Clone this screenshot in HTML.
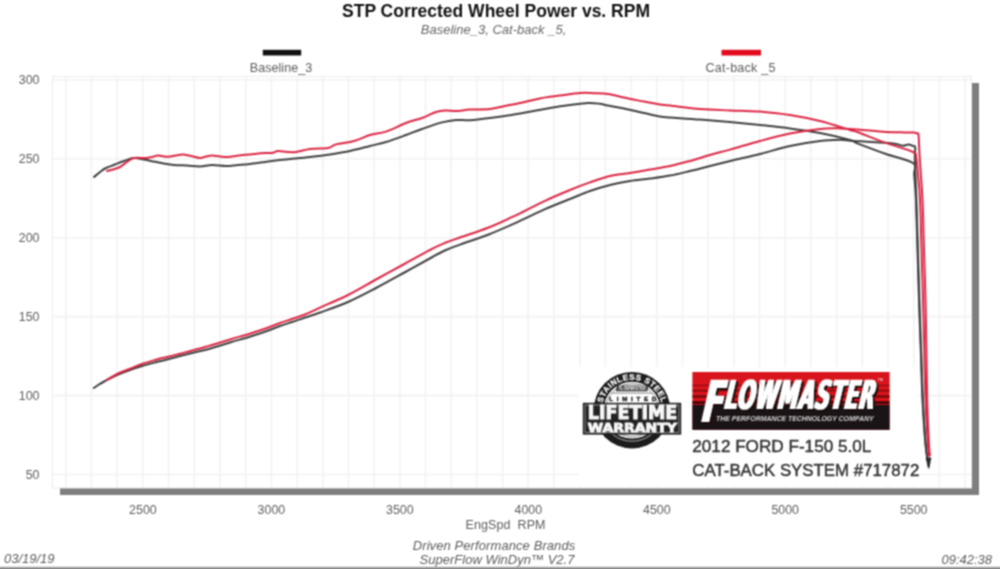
<!DOCTYPE html>
<html lang="en">
<head>
<meta charset="utf-8">
<title>STP Corrected Wheel Power vs. RPM</title>
<style>
html,body{margin:0;padding:0;background:#fff;}
body{width:1000px;height:569px;overflow:hidden;position:relative;font-family:"Liberation Sans",Arial,sans-serif;}
#wrap{position:absolute;left:0;top:0;width:1000px;height:569px;overflow:hidden;filter:url(#soft);}
svg{display:block;}
svg text{font-family:"Liberation Sans",Arial,sans-serif;}
svg text.dj{font-family:"DejaVu Sans","Liberation Sans",sans-serif;}
svg text.djc{font-family:"DejaVu Sans Condensed","DejaVu Sans","Liberation Sans",sans-serif;font-stretch:condensed;}
.tick text{font-size:12.4px;fill:#5c5c5c;}
.grid line{stroke:#f2f2f2;stroke-width:1.6;}
.curve path{fill:none;stroke-width:2;stroke-linejoin:round;stroke-linecap:round;}
</style>
</head>
<body>
<div id="wrap">
<svg id="chart" width="1000" height="569" viewBox="0 0 1000 569">
<defs><filter id="soft" x="0" y="0" width="1000" height="569" filterUnits="userSpaceOnUse" color-interpolation-filters="sRGB"><feConvolveMatrix order="3" kernelMatrix="1 2 1 2 4 2 1 2 1" divisor="16" edgeMode="duplicate" preserveAlpha="true"/></filter></defs>
<rect x="0" y="0" width="1000" height="569" fill="#ffffff"/>
<!-- titles -->
<text id="title" x="496" y="17.2" text-anchor="middle" font-size="17.5" font-weight="bold" fill="#111">STP Corrected Wheel Power vs. RPM</text>
<text id="subtitle" x="493.5" y="34" text-anchor="middle" font-size="13" textLength="145.5" font-style="italic" fill="#666">Baseline_3, Cat-back _5,</text>
<!-- legend -->
<rect x="262.8" y="49.8" width="38.4" height="5.7" fill="#111"/>
<text id="leg1" x="281" y="72" text-anchor="middle" font-size="12.6" textLength="62.5" fill="#5c5c5c">Baseline_3</text>
<rect x="721.5" y="49.8" width="39.5" height="5.7" fill="#e20a1c"/>
<text id="leg2" x="740.5" y="72" text-anchor="middle" font-size="12.6" textLength="70" fill="#5c5c5c">Cat-back _5</text>
<!-- plot frame -->
<rect x="60" y="83" width="919" height="412" fill="#7f7f7f"/>
<rect x="52.5" y="76.5" width="919.0" height="411.5" fill="#ffffff" stroke="#ececec" stroke-width="1"/>
<g class="grid"><line x1="65.8" y1="76.5" x2="65.8" y2="488.0"/><line x1="91.5" y1="76.5" x2="91.5" y2="488.0"/><line x1="117.2" y1="76.5" x2="117.2" y2="488.0"/><line x1="142.9" y1="76.5" x2="142.9" y2="488.0"/><line x1="168.6" y1="76.5" x2="168.6" y2="488.0"/><line x1="194.3" y1="76.5" x2="194.3" y2="488.0"/><line x1="220.0" y1="76.5" x2="220.0" y2="488.0"/><line x1="245.7" y1="76.5" x2="245.7" y2="488.0"/><line x1="271.4" y1="76.5" x2="271.4" y2="488.0"/><line x1="297.1" y1="76.5" x2="297.1" y2="488.0"/><line x1="322.8" y1="76.5" x2="322.8" y2="488.0"/><line x1="348.4" y1="76.5" x2="348.4" y2="488.0"/><line x1="374.1" y1="76.5" x2="374.1" y2="488.0"/><line x1="399.8" y1="76.5" x2="399.8" y2="488.0"/><line x1="425.5" y1="76.5" x2="425.5" y2="488.0"/><line x1="451.2" y1="76.5" x2="451.2" y2="488.0"/><line x1="476.9" y1="76.5" x2="476.9" y2="488.0"/><line x1="502.6" y1="76.5" x2="502.6" y2="488.0"/><line x1="528.3" y1="76.5" x2="528.3" y2="488.0"/><line x1="554.0" y1="76.5" x2="554.0" y2="488.0"/><line x1="579.7" y1="76.5" x2="579.7" y2="488.0"/><line x1="605.4" y1="76.5" x2="605.4" y2="488.0"/><line x1="631.1" y1="76.5" x2="631.1" y2="488.0"/><line x1="656.8" y1="76.5" x2="656.8" y2="488.0"/><line x1="682.5" y1="76.5" x2="682.5" y2="488.0"/><line x1="708.1" y1="76.5" x2="708.1" y2="488.0"/><line x1="733.8" y1="76.5" x2="733.8" y2="488.0"/><line x1="759.5" y1="76.5" x2="759.5" y2="488.0"/><line x1="785.2" y1="76.5" x2="785.2" y2="488.0"/><line x1="810.9" y1="76.5" x2="810.9" y2="488.0"/><line x1="836.6" y1="76.5" x2="836.6" y2="488.0"/><line x1="862.3" y1="76.5" x2="862.3" y2="488.0"/><line x1="888.0" y1="76.5" x2="888.0" y2="488.0"/><line x1="913.7" y1="76.5" x2="913.7" y2="488.0"/><line x1="939.4" y1="76.5" x2="939.4" y2="488.0"/><line x1="965.1" y1="76.5" x2="965.1" y2="488.0"/><line x1="52.5" y1="474.5" x2="971.5" y2="474.5"/><line x1="52.5" y1="395.6" x2="971.5" y2="395.6"/><line x1="52.5" y1="316.6" x2="971.5" y2="316.6"/><line x1="52.5" y1="237.7" x2="971.5" y2="237.7"/><line x1="52.5" y1="158.7" x2="971.5" y2="158.7"/><line x1="52.5" y1="79.8" x2="971.5" y2="79.8"/></g>
<rect x="579" y="367" width="338" height="119" fill="#fff"/>
<g class="tick"><text x="39.5" y="478.8" text-anchor="end">50</text><text x="39.5" y="399.9" text-anchor="end">100</text><text x="39.5" y="320.9" text-anchor="end">150</text><text x="39.5" y="242.0" text-anchor="end">200</text><text x="39.5" y="163.0" text-anchor="end">250</text><text x="39.5" y="84.0" text-anchor="end">300</text><text x="142.9" y="514" text-anchor="middle">2500</text><text x="271.4" y="514" text-anchor="middle">3000</text><text x="399.8" y="514" text-anchor="middle">3500</text><text x="528.3" y="514" text-anchor="middle">4000</text><text x="656.8" y="514" text-anchor="middle">4500</text><text x="785.2" y="514" text-anchor="middle">5000</text><text x="913.7" y="514" text-anchor="middle">5500</text></g>
<!-- curves -->
<g class="curve">
<path d="M94.0,177.0C95.0,176.2 98.0,173.5 100.0,172.0C102.0,170.5 103.5,169.2 106.0,168.0C108.5,166.8 112.0,165.7 115.0,164.5C118.0,163.3 120.8,162.1 124.0,161.0C127.2,159.9 130.7,158.2 134.0,158.0C137.3,157.8 140.7,158.9 144.0,159.5C147.3,160.1 150.7,160.9 154.0,161.6C157.3,162.3 160.7,162.9 164.0,163.5C167.3,164.1 170.2,164.7 174.0,165.0C177.8,165.3 182.7,165.3 187.0,165.5C191.3,165.7 195.8,166.5 200.0,166.4C204.2,166.3 207.7,165.1 212.0,165.0C216.3,164.9 221.7,166.0 226.0,166.0C230.3,166.0 234.0,165.3 238.0,165.0C242.0,164.7 245.5,164.5 250.0,164.0C254.5,163.5 260.0,162.7 265.0,162.0C270.0,161.3 275.8,160.5 280.0,160.0C284.2,159.5 285.0,159.5 290.0,159.0C295.0,158.5 303.3,157.8 310.0,157.0C316.7,156.2 323.3,155.4 330.0,154.4C336.7,153.4 343.3,152.4 350.0,151.0C356.7,149.6 364.0,147.5 370.0,146.0C376.0,144.5 380.0,143.8 386.0,142.0C392.0,140.2 400.0,137.2 406.0,135.0C412.0,132.8 416.0,131.1 422.0,129.0C428.0,126.9 436.3,123.9 442.0,122.4C447.7,120.9 451.3,120.4 456.0,120.0C460.7,119.6 464.3,120.5 470.0,120.2C475.7,119.9 481.7,119.1 490.0,118.0C498.3,116.9 510.0,115.3 520.0,113.6C530.0,111.9 541.7,109.4 550.0,108.0C558.3,106.6 563.7,105.8 570.0,105.0C576.3,104.2 583.0,103.2 588.0,103.0C593.0,102.8 596.7,103.4 600.0,103.8C603.3,104.2 604.0,104.8 608.0,105.6C612.0,106.4 618.0,107.2 624.0,108.4C630.0,109.6 638.0,111.7 644.0,113.0C650.0,114.3 655.7,115.8 660.0,116.5C664.3,117.2 663.3,117.0 670.0,117.5C676.7,118.0 690.0,118.8 700.0,119.6C710.0,120.3 720.0,121.1 730.0,122.0C740.0,122.9 750.0,123.9 760.0,125.0C770.0,126.1 780.0,127.1 790.0,128.4C800.0,129.7 810.0,131.1 820.0,133.0C830.0,134.9 843.7,138.2 850.0,140.0C856.3,141.8 852.0,141.3 858.0,143.6C864.0,145.9 876.8,150.8 886.0,154.0C895.2,157.2 908.3,159.5 913.0,163.0C917.7,166.5 913.7,168.8 914.2,175.0C914.7,181.2 915.5,187.5 916.0,200.0C916.5,212.5 917.0,233.3 917.5,250.0C918.0,266.7 918.5,283.3 919.0,300.0C919.5,316.7 920.2,333.3 920.8,350.0C921.4,366.7 921.7,384.2 922.5,400.0C923.3,415.8 924.6,434.7 925.5,445.0C926.4,455.3 927.6,459.2 928.0,462.0" stroke="#404040"/>
<path d="M93.8,388.0C94.6,387.4 97.1,385.7 99.0,384.5C100.9,383.3 102.0,382.6 105.0,381.0C108.0,379.4 112.8,376.8 117.0,375.0C121.2,373.2 125.8,371.5 130.0,370.0C134.2,368.5 137.8,367.2 142.0,366.0C146.2,364.8 150.8,363.6 155.0,362.5C159.2,361.4 162.8,360.6 167.0,359.5C171.2,358.4 175.8,357.1 180.0,356.0C184.2,354.9 187.8,354.0 192.0,353.0C196.2,352.0 200.8,351.1 205.0,350.0C209.2,348.9 212.8,347.8 217.0,346.5C221.2,345.2 225.8,343.8 230.0,342.5C234.2,341.2 237.8,340.2 242.0,339.0C246.2,337.8 250.8,336.3 255.0,335.0C259.2,333.7 262.8,332.5 267.0,331.0C271.2,329.5 275.8,327.5 280.0,326.0C284.2,324.5 287.8,323.4 292.0,322.0C296.2,320.6 300.3,319.1 305.0,317.5C309.7,315.9 312.8,315.1 320.0,312.5C327.2,309.9 338.7,306.1 348.0,302.0C357.3,297.9 366.6,292.9 376.0,288.0C385.4,283.1 395.0,277.7 404.4,272.5C413.8,267.3 425.6,260.8 432.5,257.0C439.4,253.2 441.3,252.1 446.0,250.0C450.7,247.9 453.5,247.0 460.6,244.4C467.7,241.8 479.3,238.2 488.7,234.5C498.1,230.8 507.5,226.6 516.9,222.4C526.3,218.2 536.1,213.1 545.0,209.2C553.9,205.3 562.5,202.0 570.0,199.0C577.5,196.0 583.3,193.3 590.0,191.0C596.7,188.7 603.3,186.7 610.0,185.0C616.7,183.3 623.3,182.1 630.0,181.0C636.7,179.9 643.3,179.5 650.0,178.6C656.7,177.7 663.3,176.9 670.0,175.6C676.7,174.3 683.3,172.6 690.0,171.0C696.7,169.4 702.7,167.8 710.0,166.0C717.3,164.2 725.7,162.0 734.0,160.0C742.3,158.0 750.7,156.3 760.0,154.0C769.3,151.7 780.0,148.2 790.0,146.0C800.0,143.8 811.7,142.0 820.0,141.0C828.3,140.0 834.8,139.9 840.0,139.8C845.2,139.8 845.7,140.3 851.0,140.7C856.3,141.1 865.0,141.5 872.0,142.0C879.0,142.5 888.3,143.0 893.0,143.5C897.7,144.0 898.3,144.6 900.0,145.0C901.7,145.4 901.8,145.7 903.0,145.7C904.2,145.7 905.8,145.0 907.0,144.8C908.2,144.6 909.0,144.5 910.0,144.7C911.0,144.9 912.1,145.5 913.0,146.0C913.9,146.5 914.9,145.2 915.2,147.5C915.5,149.8 914.7,151.2 914.9,160.0C915.1,168.8 915.9,185.0 916.4,200.0C916.9,215.0 917.4,233.3 917.9,250.0C918.4,266.7 918.9,283.3 919.4,300.0C919.9,316.7 920.5,333.3 921.1,350.0C921.7,366.7 922.1,384.2 922.9,400.0C923.7,415.8 924.8,434.0 925.8,445.0C926.8,456.0 928.1,462.5 928.6,466.0" stroke="#404040"/>
<path d="M107.0,171.0C108.0,170.8 110.8,170.2 113.0,169.5C115.2,168.8 117.7,168.2 120.0,167.0C122.3,165.8 124.7,163.5 127.0,162.0C129.3,160.5 130.8,158.7 134.0,158.0C137.2,157.3 143.0,158.2 146.0,158.0C149.0,157.8 150.0,157.4 152.0,157.0C154.0,156.6 156.0,155.7 158.0,155.6C160.0,155.5 162.0,156.2 164.0,156.4C166.0,156.6 167.8,156.8 170.0,156.6C172.2,156.4 174.8,155.6 177.0,155.2C179.2,154.8 180.7,154.3 183.0,154.4C185.3,154.5 188.2,155.4 191.0,156.0C193.8,156.6 197.5,157.9 200.0,158.0C202.5,158.1 204.0,156.9 206.0,156.5C208.0,156.1 209.7,155.6 212.0,155.6C214.3,155.6 217.3,156.3 220.0,156.5C222.7,156.7 224.8,157.2 228.0,157.0C231.2,156.8 235.3,155.9 239.0,155.5C242.7,155.1 245.7,154.8 250.0,154.4C254.3,154.0 261.3,153.2 265.0,153.0C268.7,152.8 269.8,153.3 272.0,153.0C274.2,152.7 275.5,151.2 278.0,151.0C280.5,150.8 284.0,151.8 287.0,152.0C290.0,152.2 292.2,152.5 296.0,152.0C299.8,151.5 304.7,149.7 310.0,149.0C315.3,148.3 323.7,148.8 328.0,148.0C332.3,147.2 331.7,145.6 336.0,144.4C340.3,143.2 348.3,142.6 354.0,141.0C359.7,139.4 364.7,136.6 370.0,135.0C375.3,133.4 380.0,133.6 386.0,131.6C392.0,129.6 400.0,125.3 406.0,123.0C412.0,120.7 417.0,119.8 422.0,118.0C427.0,116.2 432.0,113.3 436.0,112.0C440.0,110.7 442.7,110.6 446.0,110.4C449.3,110.2 452.0,111.1 456.0,111.0C460.0,110.9 464.3,109.9 470.0,109.6C475.7,109.3 484.2,109.6 490.0,109.0C495.8,108.4 500.0,107.0 505.0,106.0C510.0,105.0 514.2,104.3 520.0,103.0C525.8,101.7 533.3,99.6 540.0,98.4C546.7,97.2 553.3,96.5 560.0,95.6C566.7,94.7 574.3,93.4 580.0,93.0C585.7,92.6 589.3,93.0 594.0,93.2C598.7,93.4 603.0,93.3 608.0,94.0C613.0,94.7 618.0,96.3 624.0,97.6C630.0,98.9 638.0,100.4 644.0,101.6C650.0,102.8 655.7,103.8 660.0,104.5C664.3,105.2 663.3,104.8 670.0,105.6C676.7,106.3 690.0,108.2 700.0,109.0C710.0,109.8 720.0,110.0 730.0,110.4C740.0,110.8 750.0,110.8 760.0,111.6C770.0,112.4 780.0,113.4 790.0,115.0C800.0,116.6 810.0,118.5 820.0,121.0C830.0,123.5 843.7,128.1 850.0,130.0C856.3,131.9 852.0,130.2 858.0,132.3C864.0,134.5 876.8,139.6 886.0,142.9C895.2,146.2 908.0,149.5 913.0,152.0C918.0,154.5 915.5,154.2 916.3,158.0C917.1,161.8 917.4,168.0 918.0,175.0C918.6,182.0 919.4,187.5 920.0,200.0C920.6,212.5 921.0,233.3 921.5,250.0C922.0,266.7 922.5,283.3 923.0,300.0C923.5,316.7 923.9,333.3 924.3,350.0C924.7,366.7 925.0,384.2 925.6,400.0C926.2,415.8 927.4,435.7 928.0,445.0C928.6,454.3 928.8,454.2 929.0,456.0" stroke="#dc2643"/>
<path d="M107.0,380.0C108.8,378.9 114.2,375.4 118.0,373.5C121.8,371.6 126.0,370.3 130.0,368.8C134.0,367.2 137.8,365.5 142.0,364.0C146.2,362.5 150.8,361.2 155.0,360.0C159.2,358.8 162.8,358.0 167.0,357.0C171.2,356.0 175.8,354.8 180.0,353.8C184.2,352.7 187.8,351.6 192.0,350.5C196.2,349.4 200.8,348.2 205.0,347.0C209.2,345.8 212.8,344.8 217.0,343.5C221.2,342.2 225.8,340.8 230.0,339.5C234.2,338.2 237.8,337.2 242.0,336.0C246.2,334.8 250.8,333.3 255.0,332.0C259.2,330.7 262.8,329.5 267.0,328.0C271.2,326.5 275.8,324.5 280.0,323.0C284.2,321.5 287.8,320.4 292.0,319.0C296.2,317.6 300.3,316.4 305.0,314.5C309.7,312.6 312.8,310.9 320.0,307.6C327.2,304.4 338.7,299.7 348.0,295.0C357.3,290.3 366.6,284.7 376.0,279.5C385.4,274.3 395.0,269.1 404.4,264.0C413.8,258.9 425.6,252.2 432.5,248.6C439.4,245.0 441.3,244.4 446.0,242.5C450.7,240.6 453.5,239.8 460.6,237.3C467.7,234.8 479.3,231.2 488.7,227.5C498.1,223.8 507.5,219.2 516.9,214.8C526.3,210.4 536.1,204.9 545.0,200.8C553.9,196.7 562.5,193.1 570.0,190.0C577.5,186.9 583.3,184.7 590.0,182.4C596.7,180.1 603.3,177.6 610.0,176.0C616.7,174.4 623.3,174.1 630.0,173.0C636.7,171.9 643.3,170.8 650.0,169.6C656.7,168.4 663.3,167.4 670.0,166.0C676.7,164.6 683.3,162.8 690.0,161.0C696.7,159.2 703.3,156.9 710.0,155.0C716.7,153.1 721.7,151.9 730.0,149.6C738.3,147.3 750.0,143.7 760.0,141.0C770.0,138.3 780.0,135.6 790.0,133.6C800.0,131.6 811.7,129.9 820.0,129.0C828.3,128.1 833.7,128.3 840.0,128.4C846.3,128.5 850.3,128.9 858.0,129.5C865.7,130.1 878.2,131.5 886.0,132.0C893.8,132.5 900.3,132.3 905.0,132.4C909.7,132.5 912.2,132.4 914.3,132.6C916.4,132.8 916.8,132.8 917.5,133.4C918.2,134.0 918.2,132.2 918.6,136.0C919.0,139.8 919.0,145.3 919.6,156.0C920.2,166.7 921.8,184.3 922.5,200.0C923.2,215.7 923.5,233.3 924.0,250.0C924.5,266.7 925.1,283.3 925.5,300.0C925.9,316.7 926.1,333.3 926.4,350.0C926.7,366.7 926.8,384.2 927.2,400.0C927.6,415.8 928.5,435.8 929.0,445.0C929.5,454.2 929.8,453.3 930.0,455.0" stroke="#dc2643"/>
<path d="M925.6,457.5L931.4,457.5L929.2,468.5L928.2,468.5Z" style="fill:#2a2a2a;stroke:none"/>
</g>

<defs>
<path id="arcTop" d="M631.47,440.70 A30.50,30.50 0 1 1 632.53,440.70"/>
<filter id="fat" x="-5%" y="-20%" width="110%" height="140%"><feMorphology operator="dilate" radius="0.9 0.2"/></filter>
<filter id="fmshadow" x="-5%" y="-20%" width="112%" height="150%">
<feMorphology in="SourceAlpha" operator="dilate" radius="0.7 0.25" result="fatA"/>
<feOffset in="fatA" dx="2" dy="2" result="off"/>
<feFlood flood-color="#1a0a0a"/><feComposite in2="off" operator="in" result="sh"/>
<feFlood flood-color="#ffffff"/><feComposite in2="fatA" operator="in" result="wt"/>
<feMerge><feMergeNode in="sh"/><feMergeNode in="wt"/></feMerge>
</filter>
<clipPath id="fmclip"><rect x="692.4" y="372" width="197.2" height="57.8"/></clipPath>
</defs>
<!-- lifetime warranty badge -->
<g id="badge">
<circle cx="632" cy="410.2" r="38.3" fill="#1c1c1c"/>
<circle cx="632" cy="410.2" r="28.4" fill="#ffffff"/>
<circle cx="632" cy="410.2" r="26.6" fill="none" stroke="#8a8a8a" stroke-width="1"/>
<path d="M603.5,422.2A30.9,30.9 0 0 0 660.5,422.2" fill="none" stroke="#8c8c8c" stroke-width="1.1"/>
<text font-weight="bold" font-size="8" fill="#fff" letter-spacing="0.6" stroke="#fff" stroke-width="0.25"><textPath href="#arcTop" startOffset="50%" text-anchor="middle">STAINLESS STEEL</textPath></text>
<rect x="616.5" y="385.6" width="31.5" height="5.6" fill="#3a3a3a" transform="skewX(-12)" style="transform-origin:632px 388px"/>
<text x="632.3" y="390.3" text-anchor="middle" font-size="4.6" font-weight="bold" font-style="italic" fill="#fff" textLength="27" lengthAdjust="spacingAndGlyphs">FLOWMASTER</text>
<rect x="612" y="392.6" width="40" height="0.9" fill="#777"/>
<text x="632.8" y="401.4" text-anchor="middle" font-size="6.2" font-weight="bold" fill="#222" stroke="#222" stroke-width="0.4" textLength="47" lengthAdjust="spacing">LIMITED</text>
<rect x="582.8" y="402.8" width="98.4" height="31.8" fill="#222"/>
<rect x="585" y="405" width="94" height="27.4" fill="none" stroke="#9a9a9a" stroke-width="0.9"/>
<text x="632.6" y="419.2" text-anchor="middle" class="dj" font-weight="bold" font-size="18.7" fill="#f6f6f6" stroke="#f6f6f6" stroke-width="1.1" textLength="89.5" lengthAdjust="spacingAndGlyphs">LIFETIME</text>
<text x="632.3" y="431.6" text-anchor="middle" class="dj" font-weight="bold" font-size="11.6" fill="#f6f6f6" stroke="#f6f6f6" stroke-width="0.9" textLength="89" lengthAdjust="spacingAndGlyphs">WARRANTY</text>
</g>
<!-- flowmaster logo -->
<g id="fmlogo">
<rect x="692.4" y="372" width="197.2" height="57.8" fill="#d8141c"/>
<rect x="692.4" y="384.9" width="197.2" height="0.9" fill="#7c0d10"/>
<rect x="692.4" y="389.9" width="197.2" height="1.5" fill="#7c0d10"/>
<rect x="692.4" y="395.4" width="197.2" height="2.2" fill="#6a0b0e"/>
<rect x="692.4" y="401.2" width="197.2" height="3" fill="#4a0709"/>
<rect x="692.4" y="405" width="197.2" height="24.8" fill="#1b1416"/>
<g clip-path="url(#fmclip)">
<g filter="url(#fmshadow)">
<text transform="translate(701.5,421.6) skewX(-7) scale(0.60,1)" class="djc" font-weight="bold" font-style="oblique" font-size="58" fill="#fff" textLength="35.65" lengthAdjust="spacingAndGlyphs">F</text>
<text transform="translate(724.3,408.7) skewX(-8) scale(0.552,1)" letter-spacing="1.6" class="djc" font-weight="bold" font-style="oblique" font-size="40" fill="#fff" textLength="272.6" lengthAdjust="spacingAndGlyphs">LOWMASTER</text>
</g>
</g>
<text x="716" y="421.4" font-size="6.6" font-weight="bold" font-style="italic" fill="#d4d4d4" textLength="157.5" lengthAdjust="spacingAndGlyphs">THE PERFORMANCE TECHNOLOGY COMPANY</text>
<text x="877.5" y="381" font-size="3.6" fill="#fff">TM</text>
</g>
<!-- vehicle caption -->
<text id="cap1" x="692.3" y="451.5" font-size="17.3" fill="#333" stroke="#333" stroke-width="0.45" textLength="179" lengthAdjust="spacingAndGlyphs">2012 FORD F-150 5.0L</text>
<text id="cap2" x="692.3" y="475.5" font-size="17.3" fill="#333" stroke="#333" stroke-width="0.45" textLength="227" lengthAdjust="spacingAndGlyphs">CAT-BACK SYSTEM #717872</text>

<!-- axis label & footer -->
<text id="xlabel" x="505.5" y="529" text-anchor="middle" font-size="12.5" textLength="80" fill="#5c5c5c" xml:space="preserve">EngSpd  RPM</text>
<text id="foot1" x="494" y="549.5" text-anchor="middle" font-size="13" textLength="162.5" font-style="italic" fill="#5c5c5c">Driven Performance Brands</text>
<text id="foot2" x="497" y="563.5" text-anchor="middle" font-size="13" textLength="155" font-style="italic" fill="#5c5c5c">SuperFlow WinDyn™ V2.7</text>
<text id="date" x="4" y="563" font-size="13" textLength="50.5" font-style="italic" fill="#5c5c5c">03/19/19</text>
<text id="time" x="992" y="563.5" text-anchor="end" font-size="13" textLength="50.5" font-style="italic" fill="#5c5c5c">09:42:38</text>
<rect x="0" y="566.5" width="1000" height="1" fill="#c8c8c8"/>
<rect x="0" y="567.5" width="1000" height="1.5" fill="#808080"/>
</svg>
</div>
</body>
</html>
